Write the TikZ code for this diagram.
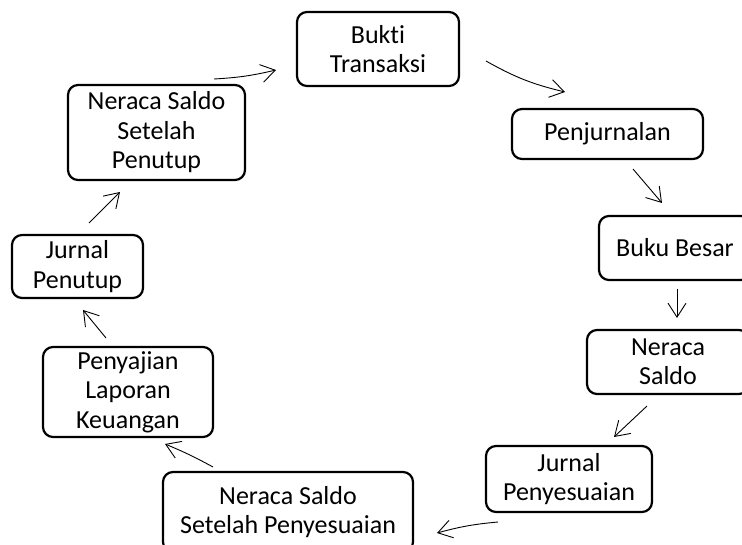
\documentclass[tikz,border=0pt]{standalone}
\usepackage{fontspec}
\setmainfont{Carlito}[Ligatures=NoCommon]
\usetikzlibrary{arrows.meta}
\begin{document}
\begin{tikzpicture}[x=1pt,y=-1pt,
  stage/.style={draw, line width=2.2pt, rounded corners=10pt, align=center, inner sep=0pt,
    font=\fontsize{26}{29.5}\selectfont},
  flow/.style={line width=0.9pt, -{Straight Barb[length=14pt,width=18pt,line width=0.9pt]}}]
\useasboundingbox (0,0) rectangle (742,545);
\clip (0,0) rectangle (742,545);
\node[stage, minimum width=162pt, minimum height=74pt] (bt) at (378,49) {Bukti\\Transaksi};
\node[stage, minimum width=191pt, minimum height=50pt] (pj) at (607.5,134) {Penjurnalan};
\node[stage, minimum width=152pt, minimum height=64pt] (bb) at (675,248) {Buku Besar};
\node[stage, minimum width=162pt, minimum height=64pt] (ns) at (668,362) {Neraca\\Saldo};
\node[stage, minimum width=166pt, minimum height=66pt] (jp) at (569,479) {Jurnal\\Penyesuaian};
\node[stage, minimum width=250pt, minimum height=80pt] (nsp) at (288,512) {Neraca Saldo\\Setelah Penyesuaian};
\node[stage, minimum width=170pt, minimum height=90pt] (lk) at (128,392) {Penyajian\\Laporan\\Keuangan};
\node[stage, minimum width=131pt, minimum height=63pt] (jt) at (77.5,266.5) {Jurnal\\Penutup};
\node[stage, minimum width=177pt, minimum height=95pt] (nst) at (156.5,132.5) {Neraca Saldo\\Setelah\\Penutup};
% arrow end points
\coordinate (a1s) at (486,61);  \coordinate (a1e) at (565,92);
\coordinate (a2s) at (633,169); \coordinate (a2e) at (662,203);
\coordinate (a3s) at (677,289); \coordinate (a3e) at (677,318);
\coordinate (a4s) at (647,406); \coordinate (a4e) at (614,437);
\coordinate (a5s) at (498,522); \coordinate (a5e) at (437,533);
\coordinate (a6s) at (213,467); \coordinate (a6e) at (165,444);
\coordinate (a7s) at (106,338); \coordinate (a7e) at (83,310);
\coordinate (a8s) at (89,223);  \coordinate (a8e) at (120,192);
\coordinate (a9s) at (214,79);  \coordinate (a9e) at (276,70);
\draw[flow] (a1s) to[bend right=8] (a1e);
\draw[flow] (a2s) -- (a2e);
\draw[flow] (a3s) -- (a3e);
\draw[flow] (a4s) -- (a4e);
\draw[flow] (a5s) to[bend right=5] (a5e);
\draw[flow] (a6s) to[bend right=3] (a6e);
\draw[flow] (a7s) -- (a7e);
\draw[flow] (a8s) -- (a8e);
\draw[flow] (a9s) to[bend right=5] (a9e);
\end{tikzpicture}
\end{document}
